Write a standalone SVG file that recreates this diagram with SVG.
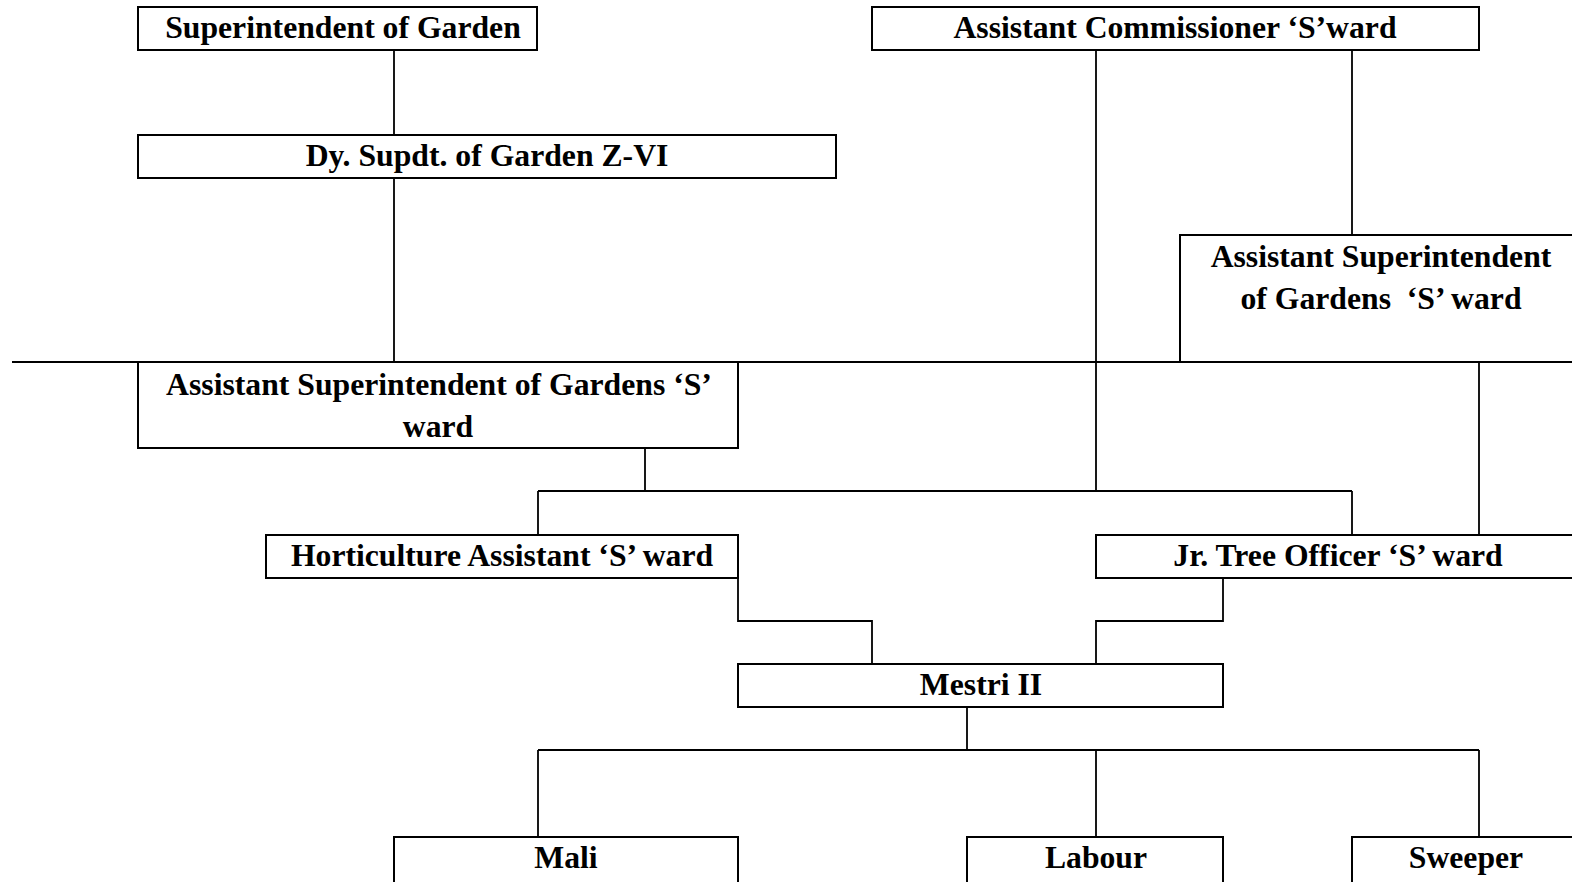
<svg xmlns="http://www.w3.org/2000/svg" width="1572" height="882" viewBox="0 0 1572 882">
<style>
.box{fill:#fff;stroke:#000;stroke-width:2}
.ln{fill:none;stroke:#000;stroke-width:1.8}
text{font-family:"Liberation Serif","Times New Roman",serif;font-weight:bold;font-size:31.7px;fill:#000;text-anchor:middle}
</style>
<rect width="1572" height="882" fill="#fff"/>
<g id="connectors">
<path class="ln" d="M394 50V135M394 178V362M12 362H1580M645 448V491M538 491H1352M538 491V535M1352 491V535M1096 50V491M1352 50V235M1479 362V535M738 578V621H872V664M1223 578V621H1096V664M967 707V750M538 750H1479M538 750V837M1096 750V837M1479 750V837"/>
</g>
<g id="n1"><rect class="box" x="138" y="7" width="399" height="43"/><text x="343" y="38">Superintendent of Garden</text></g>
<g id="n2"><rect class="box" x="872" y="7" width="607" height="43"/><text x="1175" y="38">Assistant Commissioner ‘S’ward</text></g>
<g id="n3"><rect class="box" x="138" y="135" width="698" height="43"/><text x="487" y="166">Dy. Supdt. of Garden Z-VI</text></g>
<g id="n4"><rect class="box" x="1180" y="235" width="400" height="127"/><text x="1381" y="267">Assistant Superintendent</text><text x="1381" y="309" xml:space="preserve">of Gardens  ‘S’ ward</text></g>
<g id="n5"><rect class="box" x="138" y="362" width="600" height="86"/><text x="439" y="395">Assistant Superintendent of Gardens ‘S’</text><text x="438" y="437">ward</text></g>
<g id="n6"><rect class="box" x="266" y="535" width="472" height="43"/><text x="502" y="566">Horticulture Assistant ‘S’ ward</text></g>
<g id="n7"><rect class="box" x="1096" y="535" width="484" height="43"/><text x="1338" y="566">Jr. Tree Officer ‘S’ ward</text></g>
<g id="n8"><rect class="box" x="738" y="664" width="485" height="43"/><text x="981" y="695">Mestri II</text></g>
<g id="n9"><rect class="box" x="394" y="837" width="344" height="60"/><text x="566" y="868">Mali</text></g>
<g id="n10"><rect class="box" x="967" y="837" width="256" height="60"/><text x="1096" y="868">Labour</text></g>
<g id="n11"><rect class="box" x="1352" y="837" width="228" height="60"/><text x="1466" y="868">Sweeper</text></g>
</svg>
